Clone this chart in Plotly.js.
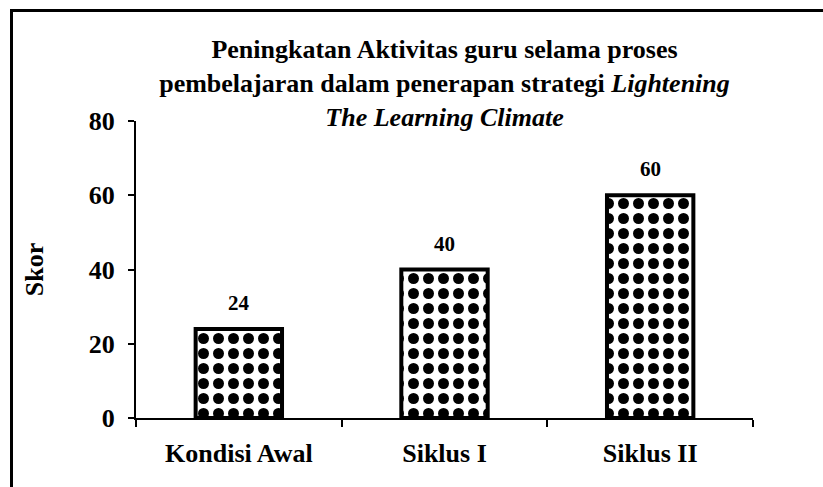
<!DOCTYPE html>
<html>
<head>
<meta charset="utf-8">
<script src="https://cdn.plot.ly/plotly-3.0.1.min.js"></script>
<style>
  html, body { margin: 0; padding: 0; background: #fff; }
  #wrap { position: relative; width: 823px; height: 487px; overflow: hidden; }
  #chart { position: absolute; left: 0; top: 0; width: 823px; height: 487px; }
  #frame { position: absolute; left: 10px; top: 9px; width: 900px; height: 600px;
           border-left: 3px solid #000; border-top: 3px solid #000; pointer-events: none; }
</style>
</head>
<body>
<div id="wrap">
  <div id="chart"></div>
  <div id="frame"></div>
</div>
<script>
const categories = ["Kondisi Awal", "Siklus I", "Siklus II"];
const scores = [24, 40, 60];
const yTicks = [0, 20, 40, 60, 80];

const FONT = "Liberation Serif, Times New Roman, serif";

const trace = {
  type: "bar",
  x: categories,
  y: scores,
  width: 0.42,
  marker: {
    color: "#ffffff",
    line: { color: "#000000", width: 4 },
    pattern: { shape: ".", fgcolor: "#000000", bgcolor: "#ffffff", size: 15, solidity: 0.42, fillmode: "replace" }
  },
  hoverinfo: "skip"
};

const annotations = categories.map((c, i) => ({
  x: c, y: scores[i], text: String(scores[i]),
  showarrow: false, yanchor: "bottom", yshift: 12,
  font: { family: FONT, size: 21, color: "#000", weight: "bold" }
}));

const layout = {
  width: 823, height: 487,
  margin: { l: 136, r: 70, t: 121, b: 69 },
  paper_bgcolor: "#ffffff", plot_bgcolor: "#ffffff",
  showlegend: false,
  title: {
    text: "Peningkatan Aktivitas guru selama proses<br>pembelajaran dalam penerapan strategi <i>Lightening</i><br><i>The Learning Climate</i>",
    font: { family: FONT, size: 26, color: "#000", weight: "bold" },
    xref: "paper", x: 0.5, xanchor: "center",
    yref: "container", y: 1 - 58 / 487, yanchor: "top"
  },
  xaxis: {
    type: "category",
    range: [-0.5, 2.5],
    showline: true, linecolor: "#000", linewidth: 2,
    ticks: "outside", tickson: "boundaries", ticklen: 7, tickwidth: 2, tickcolor: "#000",
    showgrid: false, zeroline: false,
    ticklabelstandoff: 11,
    tickfont: { family: FONT, size: 26, color: "#000", weight: "bold" }
  },
  yaxis: {
    range: [0, 80],
    tickvals: yTicks,
    ticktext: yTicks.map(String),
    showline: true, linecolor: "#000", linewidth: 2,
    ticks: "outside", ticklen: 6, tickwidth: 2, tickcolor: "#000",
    showgrid: false, zeroline: false,
    ticklabelstandoff: 8,
    tickfont: { family: FONT, size: 26, color: "#000", weight: "bold" },
    title: { text: "Skor", standoff: 38, font: { family: FONT, size: 26, color: "#000", weight: "bold" } }
  },
  annotations: annotations
};

Plotly.newPlot("chart", [trace], layout, { staticPlot: true, displayModeBar: false });
</script>
</body>
</html>
